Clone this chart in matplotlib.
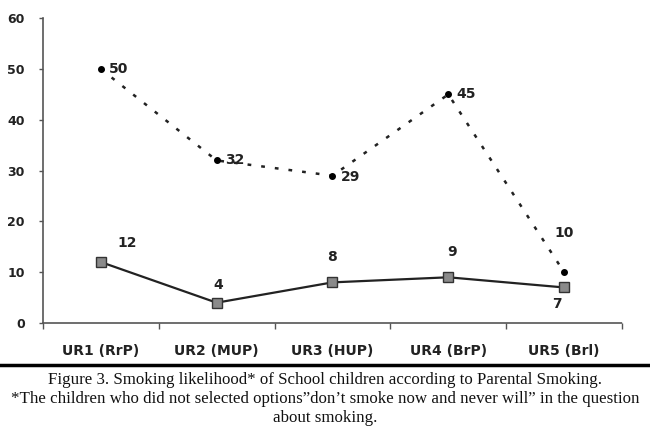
import matplotlib
matplotlib.use("Agg")
import matplotlib.pyplot as plt
from matplotlib.lines import Line2D

categories = ["UR1 (RrP)", "UR2 (MUP)", "UR3 (HUP)", "UR4 (BrP)", "UR5 (Brl)"]
dotted_vals = [50, 32, 29, 45, 10]
solid_vals = [12, 4, 8, 9, 7]
yticks = [0, 10, 20, 30, 40, 50, 60]
caption = ("Figure 3. Smoking likelihood* of School children according to Parental Smoking.\n"
           "*The children who did not selected options\u201ddon\u2019t smoke now and never will\u201d in the question\n"
           "about smoking.")

fig = plt.figure(figsize=(6.5, 4.33), dpi=100)
ax = fig.add_axes([0.066, 0.254, 0.891, 0.704])

x = [i + 0.5 for i in range(len(categories))]

ax.plot(x, dotted_vals, color="#222222", linestyle=(0, (1.5, 4)), linewidth=1.8,
        marker="o", markersize=4, markerfacecolor="black", markeredgecolor="black")
ax.plot(x, solid_vals, color="#222222", linestyle="-", linewidth=1.6,
        marker="s", markersize=7, markerfacecolor="#8a8a8a", markeredgecolor="#333333")

# data labels
dot_offsets = [(6, 0, "left"), (6, 0, "left"), (6, -1, "left"), (6, 0, "left"), (0, 28, "center")]
for xi, v, (dx, dy, ha) in zip(x, dotted_vals, dot_offsets):
    ax.annotate(str(v), (xi, v), xytext=(dx, dy), textcoords="offset points",
                ha=ha, va="center", fontsize=10, fontweight="bold", color="#222222")
solid_offsets = [(19, 14), (1, 13), (0, 18), (3, 18), (-5, -12)]
for xi, v, (dx, dy) in zip(x, solid_vals, solid_offsets):
    ax.annotate(str(v), (xi, v), xytext=(dx, dy), textcoords="offset points",
                ha="center", va="center", fontsize=10, fontweight="bold", color="#222222")

ax.set_xlim(0, len(categories))
ax.set_ylim(0, 60)
ax.set_yticks(yticks)
ax.set_yticklabels([str(t) for t in yticks], fontsize=9, fontweight="bold", color="#222222")
ax.set_xticks(range(len(categories) + 1))
ax.set_xticklabels([])
ax.set_xticks(x, minor=True)
ax.set_xticklabels(categories, minor=True, fontsize=10, fontweight="bold", color="#222222")
ax.tick_params(axis="x", which="minor", length=0, pad=15)
ax.tick_params(axis="x", which="major", length=4, width=1, color="#555555", direction="out")
ax.tick_params(axis="y", length=3, width=1, color="#555555", direction="out", pad=10)

for s in ["top", "right"]:
    ax.spines[s].set_visible(False)
for s in ["left", "bottom"]:
    ax.spines[s].set_color("#555555")
    ax.spines[s].set_linewidth(1.2)
    ax.spines[s].set_linestyle((0, (3, 1)))

fig.add_artist(Line2D([0, 1], [1 - 365 / 433, 1 - 365 / 433], transform=fig.transFigure,
                      color="black", linewidth=2.5))
fig.text(0.5, 1 - 372 / 433, caption, ha="center", va="top", fontsize=12.2,
         family="Liberation Serif", linespacing=1.25, color="#111111")

fig.savefig("out.png", dpi=100)
